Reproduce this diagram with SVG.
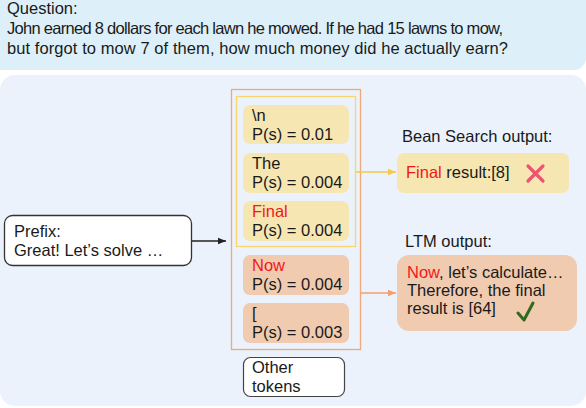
<svg xmlns="http://www.w3.org/2000/svg" width="586" height="408" viewBox="0 0 586 408">
  <style>
    text { font-family: "Liberation Sans", "DejaVu Sans", sans-serif; font-size: 16.5px; fill: #1a1a1a; }
    .red { fill: #f01818; }
    .tok-y { fill: #f6e6b2; }
    .tok-o { fill: #f0cbb0; }
  </style>
  <defs>
    <marker id="ahBlack" viewBox="0 0 10 10" refX="10" refY="5" markerWidth="8" markerHeight="8" markerUnits="userSpaceOnUse" orient="auto">
      <path d="M0,1 L10,5 L0,9 z" fill="#222"/>
    </marker>
    <marker id="ahYellow" viewBox="0 0 10 10" refX="10" refY="5" markerWidth="8" markerHeight="8" markerUnits="userSpaceOnUse" orient="auto">
      <path d="M0,1 L10,5 L0,9 z" fill="#f7c94a"/>
    </marker>
    <marker id="ahOrange" viewBox="0 0 10 10" refX="10" refY="5" markerWidth="8" markerHeight="8" markerUnits="userSpaceOnUse" orient="auto">
      <path d="M0,1 L10,5 L0,9 z" fill="#f0a070"/>
    </marker>
  </defs>

  <!-- question panel -->
  <g id="question">
    <rect x="-20" y="-20" width="606" height="90" rx="12" fill="#ddf0f9"/>
    <text x="7" y="14">Question:</text>
    <text x="7" y="34" textLength="496" lengthAdjust="spacing">John earned 8 dollars for each lawn he mowed. If he had 15 lawns to mow,</text>
    <text x="7" y="54" textLength="501" lengthAdjust="spacing">but forgot to mow 7 of them, how much money did he actually earn?</text>
  </g>

  <!-- main panel -->
  <rect x="0" y="75" width="586" height="331" rx="15" fill="#ebf2fb"/>

  <!-- candidate groups -->
  <g id="ltm-group">
    <rect x="231.5" y="89.5" width="129" height="260" fill="none" stroke="#f0a878" stroke-width="1.3"/>
  </g>
  <g id="beam-group">
    <rect x="236.5" y="96.5" width="119" height="150" fill="none" stroke="#f8d46a" stroke-width="1.3"/>
  </g>

  <g id="tok-newline">
    <rect class="tok-y" x="243" y="105" width="106" height="39" rx="7"/>
    <text x="252" y="121">\n</text>
    <text x="252" y="140">P(s) = 0.01</text>
  </g>
  <g id="tok-the">
    <rect class="tok-y" x="243" y="153" width="106" height="40" rx="7"/>
    <text x="252" y="169">The</text>
    <text x="252" y="188">P(s) = 0.004</text>
  </g>
  <g id="tok-final">
    <rect class="tok-y" x="243" y="201" width="106" height="40" rx="7"/>
    <text class="red" x="252" y="217">Final</text>
    <text x="252" y="236">P(s) = 0.004</text>
  </g>
  <g id="tok-now">
    <rect class="tok-o" x="243" y="255" width="106" height="40" rx="7"/>
    <text class="red" x="252" y="271">Now</text>
    <text x="252" y="290">P(s) = 0.004</text>
  </g>
  <g id="tok-bracket">
    <rect class="tok-o" x="243" y="303" width="106" height="40" rx="7"/>
    <text x="252" y="319">[</text>
    <text x="252" y="338">P(s) = 0.003</text>
  </g>
  <g id="tok-other">
    <rect x="243.5" y="357.5" width="101" height="39" rx="7" fill="#ffffff" stroke="#444" stroke-width="1.2"/>
    <text x="252" y="373">Other</text>
    <text x="252" y="392">tokens</text>
  </g>

  <!-- prefix -->
  <g id="prefix">
    <rect x="4.5" y="215.5" width="187" height="50" rx="8" fill="#ffffff" stroke="#333" stroke-width="1.3"/>
    <text x="14" y="237">Prefix:</text>
    <text x="14" y="256">Great! Let’s solve …</text>
  </g>

  <!-- beam search output -->
  <g id="beam-output">
    <text x="402" y="142">Bean Search output:</text>
    <rect class="tok-y" x="397" y="153" width="172" height="40" rx="7"/>
    <text x="406" y="178"><tspan class="red">Final</tspan> result:[8]</text>
    <path d="M528,166 L543,181 M543,166 L528,181" stroke="#ec5470" stroke-width="3.2" stroke-linecap="round"/>
  </g>

  <!-- ltm output -->
  <g id="ltm-output">
    <text x="405" y="247">LTM output:</text>
    <rect class="tok-o" x="397" y="255" width="180" height="76" rx="12"/>
    <text x="407" y="278"><tspan class="red">Now</tspan>, let’s calculate…</text>
    <text x="407" y="296">Therefore, the final</text>
    <text x="407" y="314">result is [64]</text>
    <path d="M518,313 L524,320 L533,303" fill="none" stroke="#2f6a1f" stroke-width="3" stroke-linecap="round" stroke-linejoin="round"/>
  </g>

  <!-- connectors -->
  <g id="connectors" fill="none" stroke-width="1.3">
    <line x1="192" y1="241" x2="226" y2="241" stroke="#222" marker-end="url(#ahBlack)"/>
    <line x1="356" y1="172" x2="396" y2="172" stroke="#f7c94a" marker-end="url(#ahYellow)"/>
    <line x1="361" y1="293" x2="396" y2="293" stroke="#f0a070" marker-end="url(#ahOrange)"/>
  </g>
</svg>
